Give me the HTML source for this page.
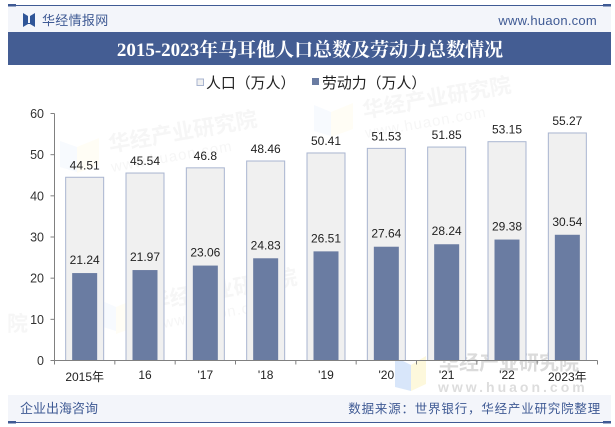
<!DOCTYPE html>
<html lang="zh">
<head>
<meta charset="utf-8">
<title>2015-2023年马耳他人口总数及劳动力总数情况</title>
<style>
html,body{margin:0;padding:0;background:#fff;}
#stage{position:relative;width:615px;height:427px;overflow:hidden;background:#fff;font-family:"Liberation Sans","Noto Sans CJK SC",sans-serif;}
svg{display:block;}
</style>
</head>
<body>
<div id="stage">
<svg id="chart" width="615" height="427" viewBox="0 0 615 427" xmlns="http://www.w3.org/2000/svg" font-family='"Liberation Sans","Noto Sans CJK SC",sans-serif'>
  <rect x="8" y="6" width="603" height="26" fill="#f3f5fa"/>
  <rect x="16" y="5" width="587" height="1" fill="#3f5a94"/>
  <rect x="8" y="4" width="8" height="2.5" fill="#3f5a94"/>
  <rect x="603" y="4" width="8" height="2.5" fill="#3f5a94"/>
  <path d="M23 13l5 3v7h2v-7l5-3v14l-5-3h-2l-5 3z" fill="#2f5597"/>
  <text x="42" y="25" font-size="13" letter-spacing="0.3" fill="#3f5a94">华经情报网</text>
  <text x="597" y="25" text-anchor="end" font-size="13" letter-spacing="0.25" fill="#3f5a94">www.huaon.com</text>
  <rect x="8" y="32" width="603" height="33" fill="#445d93"/>
  <text x="310" y="56" text-anchor="middle" font-size="19" font-weight="bold" fill="#fff" font-family='"Liberation Serif","Noto Serif CJK SC",serif'>2015-2023年马耳他人口总数及劳动力总数情况</text>

  <g fill="#e8e8e8" opacity="0.38" font-weight="bold">
    <text x="110" y="152" font-size="21.5" transform="rotate(-10 110 152)">华经产业研究院</text>
    <text x="112" y="172" font-size="15" font-weight="normal" letter-spacing="1" transform="rotate(-10 112 172)">www.huaon.com</text>
    <text x="364" y="118" font-size="21.5" transform="rotate(-10 364 118)">华经产业研究院</text>
    <text x="366" y="138" font-size="15" font-weight="normal" letter-spacing="1" transform="rotate(-10 366 138)">www.huaon.com</text>
    <text x="150" y="310" font-size="21.5" transform="rotate(-10 150 310)">华经产业研究院</text>
    <text x="152" y="330" font-size="15" font-weight="normal" letter-spacing="1" transform="rotate(-10 152 330)">www.huaon.com</text>
    <text x="7" y="331" font-size="21">院</text>
  </g>
  <g opacity="0.3">
    <path d="M60 141l17 6v25l-17-5z" fill="#e4edfb"/>
    <path d="M77 147l22-9v27l-22 8z" fill="#fdf8dc"/>
    <path d="M314 105l17 7v24l-17-5z" fill="#e4edfb"/>
    <path d="M331 112l22-9v26l-22 8z" fill="#fdf8dc"/>
    <path d="M100 300l16 7v24l-16-5z" fill="#e4edfb"/>
    <path d="M116 307l22-9v28l-22 8z" fill="#fdf8dc"/>
  </g>
  <g>
    <path d="M395 357l16 8v26l-16-4z" fill="#d8e6fa"/>
    <path d="M411 365l15-9v28l-15 7z" fill="#fdf8dc"/>
    <text x="439" y="369.5" font-size="20" font-weight="bold" fill="#cfcfcf" opacity="0.75">华经产业研究院</text>
    <text x="438" y="392" font-size="14" font-weight="bold" letter-spacing="3" fill="#d5d5d5" opacity="0.8">www.huaon.com</text>
  </g>

  <g>
    <g>
      <rect x="197" y="79" width="6.5" height="6.5" fill="#f0f0f0" stroke="#a9b5d0"/>
      <text x="206" y="88" font-size="14.9" fill="#222">人口（万人）</text>
    </g>
    <g>
      <rect x="312" y="78" width="7" height="7" fill="#6a7ca2"/>
      <text x="322" y="88" font-size="14.9" fill="#222">劳动力（万人）</text>
    </g>
  </g>

  <g id="plot"></g>

  <rect x="8" y="395" width="603" height="27" fill="#f3f5fa"/>
  <rect x="16" y="422" width="587" height="1" fill="#3f5a94"/>
  <rect x="8" y="421" width="8" height="2.5" fill="#3f5a94"/>
  <rect x="603" y="421" width="8" height="2.5" fill="#3f5a94"/>
  <text x="20" y="413" font-size="13" fill="#3f5a94">企业出海咨询</text>
  <text x="601" y="413" text-anchor="end" font-size="12.5" letter-spacing="0.8" fill="#3f5a94">数据来源：世界银行，华经产业研究院整理</text>
</svg>
</div>
<script>
const categories = ["2015年", "16", "'17", "'18", "'19", "'20", "'21", "'22", "2023年"];
const populationValues = [44.51, 45.54, 46.8, 48.46, 50.41, 51.53, 51.85, 53.15, 55.27];
const laborValues = [21.24, 21.97, 23.06, 24.83, 26.51, 27.64, 28.24, 29.38, 30.54];
const yTicks = [0, 10, 20, 30, 40, 50, 60];

const NS = 'http://www.w3.org/2000/svg';
const plot = document.getElementById('plot');
const axisLeft = 54.5, axisRight = 597.5, axisBottom = 360.5, axisTop = 113.5, yMax = 60;
const band = (axisRight - axisLeft) / categories.length;
function xScale(i) { return axisLeft + band * (i + 0.5); }
function yScale(v) { return axisBottom - (v / yMax) * (axisBottom - axisTop); }
function make(tag, attrs, text) {
  const el = document.createElementNS(NS, tag);
  for (const k in attrs) el.setAttribute(k, attrs[k]);
  if (text !== undefined) el.textContent = text;
  plot.appendChild(el);
  return el;
}

categories.forEach(function (cat, i) {
  const cx = xScale(i);
  const outer = make('rect', {x: cx - 19, y: yScale(populationValues[i]), width: 38, height: axisBottom - yScale(populationValues[i]), fill: '#f0f0f0', stroke: '#a9b5d0', 'stroke-width': 1});
  
  
  const inner = make('rect', {x: cx - 12.5, y: yScale(laborValues[i]), width: 25, height: axisBottom - yScale(laborValues[i]), fill: '#6a7ca2'});
  
  
  const popLabel = make('text', {x: cx, y: yScale(populationValues[i]) - 8, 'text-anchor': 'middle', 'font-size': 12, fill: '#222'}, String(populationValues[i]));
  
  
  const laborLabel = make('text', {x: cx, y: yScale(laborValues[i]) - 9, 'text-anchor': 'middle', 'font-size': 12, fill: '#222'}, String(laborValues[i]));
  
  
  const isWide = cat.length > 3;
  const xLabel = make('text', {x: cx, y: isWide ? 381 : 379, 'text-anchor': 'middle', 'font-size': 12, fill: '#222'}, cat);
  
  
});

for (let i = 0; i <= categories.length; i++) {
  const tx = axisLeft + band * i;
  const xTick = make('line', {x1: tx, x2: tx, y1: axisBottom, y2: axisBottom + 4, stroke: '#808080', 'stroke-width': 1});
  
  
}

yTicks.forEach(function (t) {
  const y = yScale(t);
  const yTick = make('line', {x1: axisLeft - 4, x2: axisLeft, y1: y, y2: y, stroke: '#808080', 'stroke-width': 1});
  
  
  const yLabel = make('text', {x: 44, y: y + 4.5, 'text-anchor': 'end', 'font-size': 12.5, fill: '#333'}, String(t));
  
  
});

const yAxis = make('line', {x1: axisLeft, x2: axisLeft, y1: axisTop, y2: axisBottom, stroke: '#808080', 'stroke-width': 1});


const xAxis = make('line', {x1: axisLeft, x2: axisRight, y1: axisBottom, y2: axisBottom, stroke: '#808080', 'stroke-width': 1});


</script>
</body>
</html>
